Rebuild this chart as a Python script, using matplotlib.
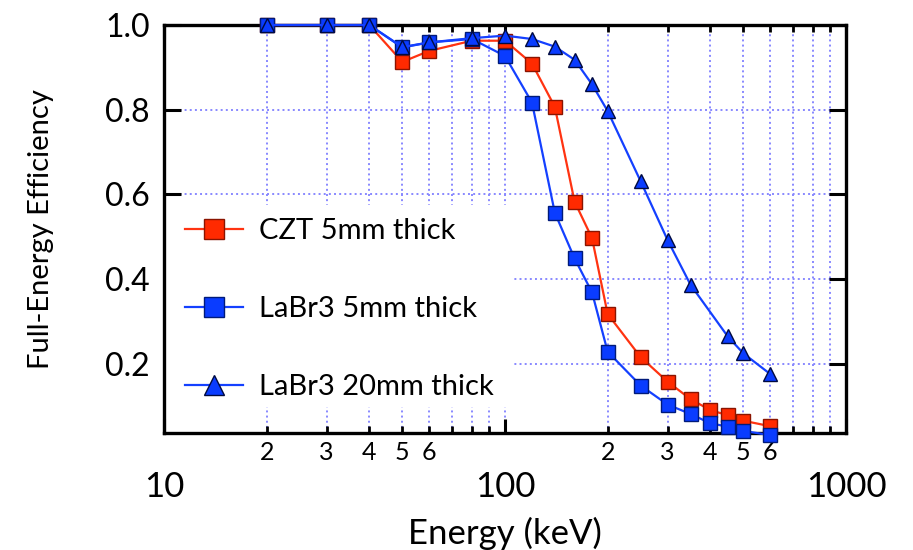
import matplotlib
matplotlib.use('Agg')
import matplotlib.pyplot as plt
from matplotlib.patches import Rectangle

plt.rcParams['font.family'] = ['Lato', 'DejaVu Sans']

# energies (keV) and full-energy efficiencies
energy = [20, 30, 40, 50, 60, 80, 100, 120, 140, 160, 180, 200, 250, 300,
          350, 400, 450, 500, 600]
eff_czt5 = [1.0, 1.0, 1.0, 0.913, 0.939, 0.963, 0.963, 0.909, 0.807, 0.583,
            0.497, 0.318, 0.216, 0.158, 0.117, 0.091, 0.079, 0.066, 0.053]
eff_labr5 = [1.0, 1.0, 1.0, 0.947, 0.959, 0.967, 0.927, 0.817, 0.557, 0.449,
             0.369, 0.229, 0.149, 0.104, 0.082, 0.060, 0.052, 0.042, 0.032]

energy_20mm = [20, 30, 40, 50, 60, 80, 100, 120, 140, 160, 180, 200, 250,
               300, 350, 450, 500, 600]
eff_labr20 = [1.0, 1.0, 1.0, 0.948, 0.959, 0.969, 0.975, 0.967, 0.949, 0.918,
              0.860, 0.797, 0.631, 0.492, 0.387, 0.265, 0.225, 0.176]

labels = ['CZT 5mm thick', 'LaBr3 5mm thick', 'LaBr3 20mm thick']

major_x = [10, 100, 1000]
major_x_labels = ['10', '100', '1000']
minor_x = [20, 30, 40, 50, 60, 70, 80, 90, 200, 300, 400, 500, 600, 700,
           800, 900]
minor_x_labels = ['2', '3', '4', '5', '6', '', '', '', '2', '3', '4', '5',
                  '6', '', '', '']
y_ticks = [0.2, 0.4, 0.6, 0.8, 1.0]
y_tick_labels = ['0.2', '0.4', '0.6', '0.8', '1.0']

red_line = '#ff3311'
red_face = '#ff2a00'
red_edge = '#8a1400'
blue_line = '#1440ff'
blue_face = '#0a3cff'
blue_edge = '#001a7a'

fig = plt.figure(figsize=(9.13, 5.5), dpi=100)
ax = fig.add_axes([0.1796, 0.2127, 0.747, 0.7418])

ax.plot(energy, eff_czt5, color=red_line, lw=1.6, marker='s', ms=9.8,
        mfc=red_face, mec=red_edge, mew=1.0, clip_on=False, zorder=3,
        label=labels[0])
ax.plot(energy, eff_labr5, color=blue_line, lw=1.6, marker='s', ms=9.8,
        mfc=blue_face, mec=blue_edge, mew=1.0, clip_on=False, zorder=4,
        label=labels[1])
ax.plot(energy_20mm, eff_labr20, color=blue_line, lw=1.6, marker='^',
        ms=10, mfc=blue_face, mec='#000a40', mew=1.0, clip_on=False,
        zorder=5, label=labels[2])

ax.set_xscale('log')
ax.set_xlim(10, 1000)
ax.set_ylim(0.037, 1.0)

ax.set_xticks(major_x)
ax.set_xticklabels(major_x_labels)
ax.set_xticks(minor_x, minor=True)
ax.set_xticklabels(minor_x_labels, minor=True)
ax.set_yticks(y_ticks)
ax.set_yticklabels(y_tick_labels)

ax.tick_params(axis='x', which='major', direction='in', length=10, width=2.2,
               top=True, labelsize=25, pad=27)
ax.tick_params(axis='x', which='minor', direction='in', length=5, width=2.0,
               top=True, labelsize=18, pad=6)
ax.tick_params(axis='y', which='major', direction='in', length=12, width=2.2,
               right=True, labelsize=23, pad=10)
ax.tick_params(axis='y', which='minor', left=False, right=False)

for s in ax.spines.values():
    s.set_linewidth(2.4)

ax.set_axisbelow(True)
ax.grid(axis='x', which='both', color='#8888ff', ls=':', lw=1.4)
ax.grid(axis='y', which='major', color='#8888ff', ls=':', lw=1.4)

ax.set_xlabel('Energy (keV)', fontsize=25, labelpad=10)
ax.set_ylabel('Full-Energy Efficiency', fontsize=21, labelpad=37)

# white patch behind the legend hides the grid there
ax.add_patch(Rectangle((0.0, 0.064), 0.51, 0.495, transform=ax.transAxes,
                       facecolor='white', edgecolor='none', zorder=1))

leg = ax.legend(loc='upper left', bbox_to_anchor=(0.031, 0.526),
                borderaxespad=0, fontsize=21, frameon=False,
                markerscale=1.5, handlelength=2.0, handletextpad=0.55,
                labelspacing=1.78, borderpad=0)
leg.set_zorder(6)

plt.savefig('out.png', dpi=100)
plt.close(fig)
